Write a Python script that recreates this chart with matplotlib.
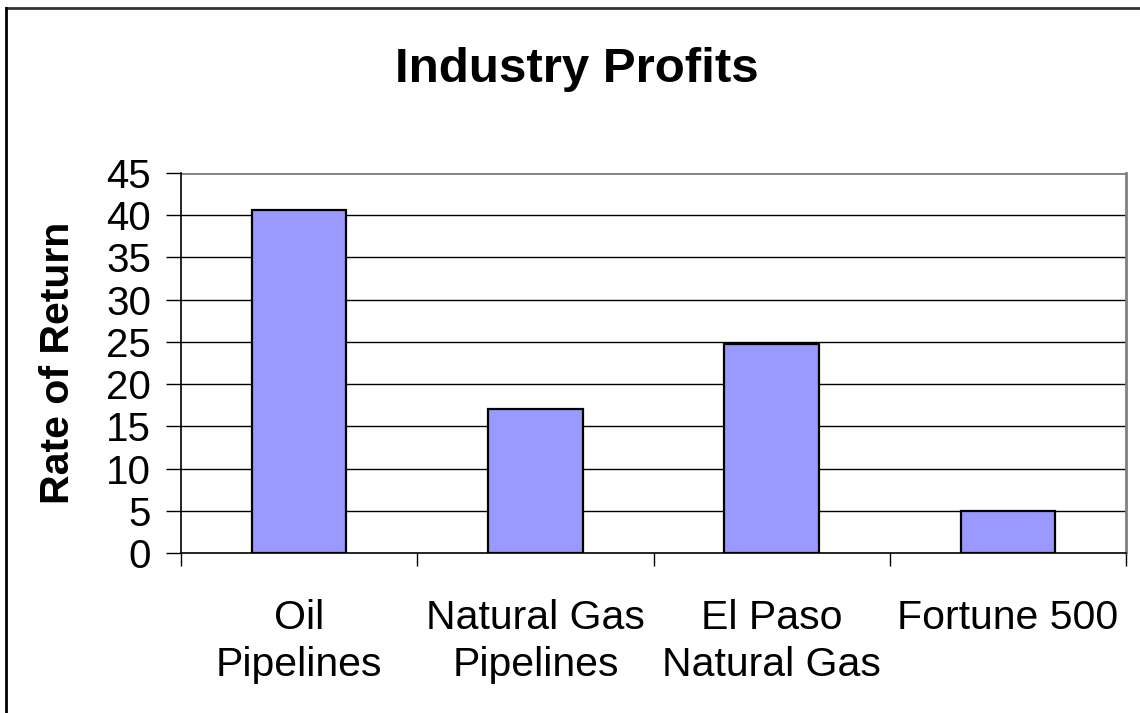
import matplotlib
matplotlib.use("Agg")
import matplotlib.pyplot as plt
from matplotlib.lines import Line2D

categories = ["Oil\nPipelines", "Natural Gas\nPipelines", "El Paso\nNatural Gas", "Fortune 500"]
rate_of_return = [40.6, 17.1, 24.8, 5.0]
y_ticks = [0, 5, 10, 15, 20, 25, 30, 35, 40, 45]

plt.rcParams['font.family'] = ['Liberation Sans', 'DejaVu Sans']

W, H = 1140, 713
fig = plt.figure(figsize=(W / 100, H / 100), dpi=100)
ax = fig.add_axes([181 / W, 1 - 553 / H, 945 / W, 380 / H])

x = range(len(categories))
ax.bar(x, rate_of_return, width=0.4, color="#9999ff", edgecolor="black",
       linewidth=1.6, zorder=3)

ax.set_xlim(-0.5, len(categories) - 0.5)
ax.set_ylim(0, 45)

# gridlines
for v in y_ticks[1:-1]:
    ax.axhline(v, color="black", linewidth=1, zorder=1)
ax.axhline(45, color="#808080", linewidth=2, zorder=1)

ax.spines["top"].set_visible(False)
ax.spines["right"].set_color("#808080")
ax.spines["right"].set_linewidth(2)
ax.spines["left"].set_linewidth(1.2)
ax.spines["bottom"].set_linewidth(1.2)

ax.set_yticks(y_ticks)
ax.tick_params(axis="y", direction="out", length=10.5, width=1, labelsize=29, pad=11)

ax.set_xticks(list(x))
ax.set_xticklabels(categories, fontsize=29.5, linespacing=1.3)
ax.set_xticks([i - 0.5 for i in range(len(categories) + 1)], minor=True)
ax.tick_params(axis="x", which="major", length=0, pad=33)
ax.tick_params(axis="x", which="minor", direction="out", length=9.5, width=1)

fig.text(577 / W, 1 - 82 / H, "Industry Profits", ha="center", va="baseline",
         fontsize=35.5, fontweight="bold")
fig.text(58 / W, 1 - 363 / H, "Rate of Return", ha="center", va="center",
         rotation=90, fontsize=29.5, fontweight="bold")

# outer chart border
fig.add_artist(Line2D([6 / W, 1.0], [1 - 8 / H, 1 - 8 / H], color="#333333", linewidth=2))
fig.add_artist(Line2D([6 / W, 6 / W], [0, 1 - 8 / H], color="black", linewidth=2))

fig.savefig("out.png", dpi=100)
